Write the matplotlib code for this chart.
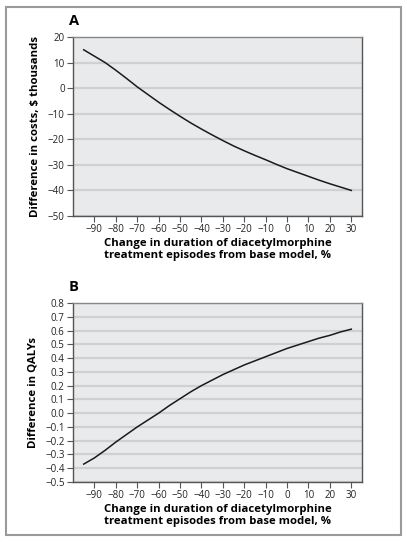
import matplotlib
matplotlib.use("Agg")
import matplotlib.pyplot as plt
from matplotlib.patches import Rectangle

plt.rcParams['font.family'] = ['Open Sans', 'DejaVu Sans']

change_pct = [-95, -90, -85, -80, -75, -70, -65, -60, -55, -50, -45, -40, -35, -30,
              -25, -20, -15, -10, -5, 0, 5, 10, 15, 20, 25, 30]
cost_diff = [15, 12.5, 10, 7, 3.8, 0.5, -2.5, -5.5, -8.3, -11, -13.6, -16, -18.3, -20.5,
             -22.6, -24.5, -26.3, -28, -29.8, -31.5, -33, -34.5, -36, -37.4, -38.7, -40]
qaly_diff = [-0.37, -0.325, -0.27, -0.21, -0.155, -0.10, -0.05, 0.0, 0.055, 0.105, 0.155,
             0.20, 0.24, 0.28, 0.315, 0.35, 0.38, 0.41, 0.44, 0.47, 0.495, 0.52, 0.545,
             0.565, 0.59, 0.61]

x_ticks = list(range(-90, 31, 10))
x_tick_labels = [str(t).replace('-', '\u2212') for t in x_ticks]
xlabel = "Change in duration of diacetylmorphine\ntreatment episodes from base model, %"

W, H = 407, 542
fig = plt.figure(figsize=(W / 100, H / 100), dpi=100)
fig.patch.set_facecolor('white')
fig.add_artist(Rectangle((6 / W, 7 / H), 395 / W, 528 / H, transform=fig.transFigure,
                         fill=False, edgecolor='#9a9a9a', linewidth=1.5))


def style(ax, yticks, ylabels, ylim, ylabel, letter):
    ax.set_facecolor('#e9eaec')
    ax.set_xlim(-100, 35)
    ax.set_ylim(*ylim)
    ax.set_xticks(x_ticks)
    ax.set_xticklabels(x_tick_labels)
    ax.set_yticks(yticks)
    ax.set_yticklabels(ylabels)
    ax.grid(axis='y', color='#d0d0d2', linewidth=1.6)
    ax.set_axisbelow(True)
    for s in ax.spines.values():
        s.set_color('#555555')
        s.set_linewidth(1.0)
    ax.spines['top'].set_color('#888888')
    ax.tick_params(axis='both', direction='out', length=4, width=0.8, color='#555555',
                   labelsize=7, labelcolor='#222222', pad=2)
    ax.set_xlabel(xlabel, fontsize=8.2, fontweight='bold', labelpad=2, linespacing=1.15)
    ax.set_ylabel(ylabel, fontsize=8.2, fontweight='bold', labelpad=5)
    ax.text(-0.014, 1.05, letter, transform=ax.transAxes, fontsize=10.5, fontweight='bold',
            ha='left', va='bottom')


axA = fig.add_axes([73 / W, 326 / H, 289 / W, 179 / H])
axA.plot(change_pct, cost_diff, color='#1a1a1a', linewidth=1.1)
yA = list(range(-50, 21, 10))
style(axA, yA, [str(v).replace('-', '\u2212') for v in yA], (-50, 20),
      "Difference in costs, $ thousands", "A")

axB = fig.add_axes([73 / W, 60 / H, 289 / W, 179 / H])
axB.plot(change_pct, qaly_diff, color='#1a1a1a', linewidth=1.1)
yB = [round(-0.5 + 0.1 * i, 1) for i in range(14)]
style(axB, yB, [f"{v:.1f}".replace('-', '\u2212') for v in yB], (-0.5, 0.8),
      "Difference in QALYs", "B")

fig.savefig("out.png", dpi=100)
